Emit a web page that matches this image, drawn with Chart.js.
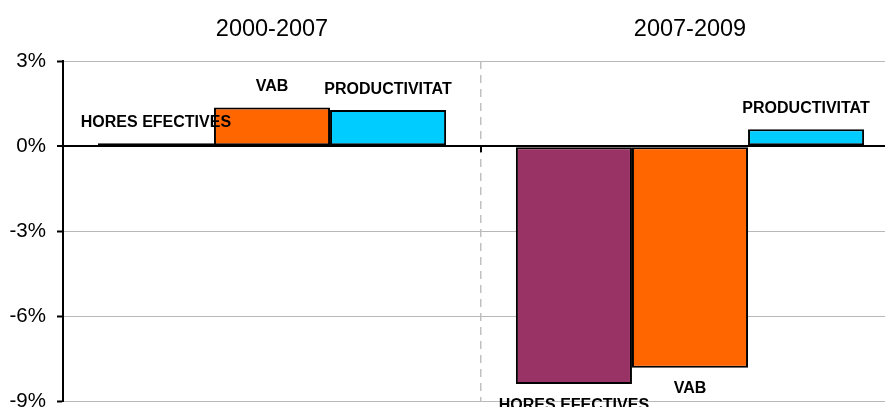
<!DOCTYPE html>
<html>
<head>
<meta charset="utf-8">
<script src="https://cdn.jsdelivr.net/npm/chart.js@4/dist/chart.umd.min.js"></script>
<style>
  html, body { margin: 0; padding: 0; background: #fff; overflow: hidden; }
  #wrap { width: 885px; height: 407px; overflow: hidden; }
</style>
</head>
<body>
<div id="wrap"><canvas id="myChart" width="900" height="425"></canvas></div>
<script>
const periods = ["2000-2007", "2007-2009"];
const seriesNames = ["HORES EFECTIVES", "VAB", "PRODUCTIVITAT"];
const hores = [0.1, -8.38];
const vab = [1.36, -7.8];
const productivitat = [1.27, 0.6];
const yTicks = [3, 0, -3, -6, -9];

const ctx = document.getElementById("myChart");

// labels above / below each bar
const barLabels = {
  id: "barLabels",
  afterDatasetsDraw(chart) {
    const c = chart.ctx;
    c.save();
    c.font = "bold 16px 'Liberation Sans', Arial, sans-serif";
    c.fillStyle = "#000";
    c.textAlign = "center";
    c.textBaseline = "middle";
    chart.data.datasets.forEach((ds, i) => {
      chart.getDatasetMeta(i).data.forEach((bar, j) => {
        const v = ds.data[j];
        const y = v >= 0 ? bar.y - 21 : bar.y + 21;
        c.fillText(ds.label, bar.x, y);
      });
    });
    // small category tick on the zero line
    const xs = chart.scales.x, ys = chart.scales.y;
    const px = xs.getPixelForValue(0.5);
    const py = ys.getPixelForValue(0);
    c.strokeStyle = "#000";
    c.lineWidth = 2;
    c.beginPath();
    c.moveTo(px, py);
    c.lineTo(px, py + 6);
    c.stroke();
    c.restore();
  }
};

const myChart = new Chart(ctx, {
  type: "bar",
  data: {
    labels: periods,
    datasets: [
      { label: seriesNames[0], data: hores, backgroundColor: "#993366" },
      { label: seriesNames[1], data: vab, backgroundColor: "#FF6600" },
      { label: seriesNames[2], data: productivitat, backgroundColor: "#00CCFF" },
    ].map(d => Object.assign(d, { borderColor: "#000", borderWidth: 2, borderSkipped: false })),
  },
  options: {
    responsive: false,
    animation: false,
    layout: { padding: { top: 0, right: 1, bottom: 0, left: 0 } },
    categoryPercentage: 0.833,
    barPercentage: 1,
    plugins: { legend: { display: false }, tooltip: { enabled: false } },
    scales: {
      x: {
        position: "top",
        afterFit: (s) => { s.height = 61; },
        grid: {
          drawTicks: false,
          color: (c) => (c.index === 1 ? "#c0c0c0" : "rgba(0,0,0,0)"),
          lineWidth: 1.5,
        },
        border: { display: false, dash: [8, 6] },
        ticks: {
          padding: 17,
          color: "#000",
          font: { size: 23.5, family: "'Liberation Sans', Arial, sans-serif" },
        },
      },
      y: {
        min: -9,
        max: 3,
        afterFit: (s) => { s.width = 63; },
        afterBuildTicks: (s) => { s.ticks = yTicks.map(v => ({ value: v })); },
        border: { color: "#000", width: 2 },
        grid: {
          color: (c) => (c.tick && c.tick.value === 0 ? "#000" : "#b8b8b8"),
          lineWidth: (c) => (c.tick && c.tick.value === 0 ? 2 : 1),
          tickColor: "#000",
          tickLength: 6,
          tickWidth: 2,
        },
        ticks: {
          padding: 11,
          color: "#000",
          font: { size: 20.5, family: "'Liberation Sans', Arial, sans-serif" },
          callback: (v) => v + "%",
        },
      },
    },
  },
  plugins: [barLabels],
});
</script>
</body>
</html>
